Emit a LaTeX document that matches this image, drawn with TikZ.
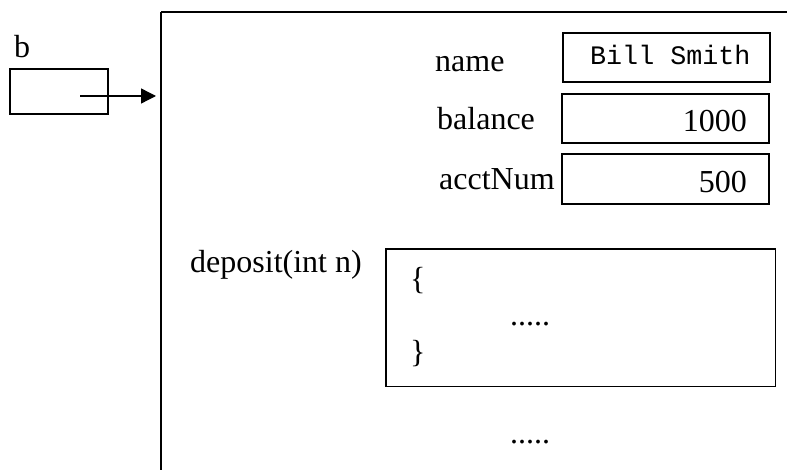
\documentclass[tikz,border=0pt]{standalone}
\usepackage{fontspec}
\setmainfont{Liberation Serif}
\setmonofont{Liberation Mono}
\usetikzlibrary{arrows.meta}
\begin{document}
\begin{tikzpicture}[x=1pt,y=-1pt,
  lbl/.style={inner sep=0pt,font=\fontsize{32}{38}\selectfont},
  mono/.style={inner sep=0pt,font=\ttfamily\fontsize{26.7}{32}\selectfont},
  cell/.style={draw,line width=1.6pt,inner sep=0pt,minimum width=207pt,minimum height=49pt},
  edge/.style={line width=1.6pt}]
\useasboundingbox (0,0) rectangle (787,470);
% reference variable b
\node[lbl,anchor=base west] (blbl) at (14,58) {b};
\node[draw,line width=1.6pt,inner sep=0pt,minimum width=98pt,minimum height=45pt] (bbox) at (59,91.5) {};
% object outline (cropped)
\coordinate (objtl) at (161,12);
\coordinate (objtr) at (787,12);
\coordinate (objbl) at (161,470);
\coordinate (objin) at (156,96);
\coordinate (bstart) at (80,96);
\draw[line width=1.2pt] (objtr) -- (objtl);
\draw[edge] (objtl) -- (objbl);
\draw[line width=1.4pt,-{Triangle[length=15pt,width=15pt]}] (bstart) -- (objin);
% fields
\node[cell] (namebox) at (666.5,57.5) {};
\node[cell] (balbox) at (665.3,118.7) {};
\node[cell,minimum height=50pt] (acctbox) at (665.3,179.3) {};
\node[lbl,anchor=base west] (namelbl) at (435,72) {name};
\node[lbl,anchor=base west] (ballbl) at (437,130) {balance};
\node[lbl,anchor=base west] (acctlbl) at (439,190) {acctNum};
\node[mono,anchor=base west] (nameval) at (590,65) {Bill Smith};
\node[lbl,anchor=base east] (balval) at (747,132) {1000};
\node[lbl,anchor=base east] (acctval) at (747,193) {500};
% method
\node[lbl,anchor=base west] (deplbl) at (190,273) {deposit(int n)};
\node[draw,line width=1.6pt,inner sep=0pt,minimum width=389.7pt,minimum height=137.7pt] (depbox) at (580.8,317.8) {};
\node[lbl,anchor=base west] (lbrace) at (410,290) {\{};
\node[lbl,anchor=base west] (body) at (510,326) {.....};
\node[lbl,anchor=base west] (rbrace) at (410,362) {\}};
\node[lbl,anchor=base west] (more) at (510,443) {.....};
\end{tikzpicture}
\end{document}
